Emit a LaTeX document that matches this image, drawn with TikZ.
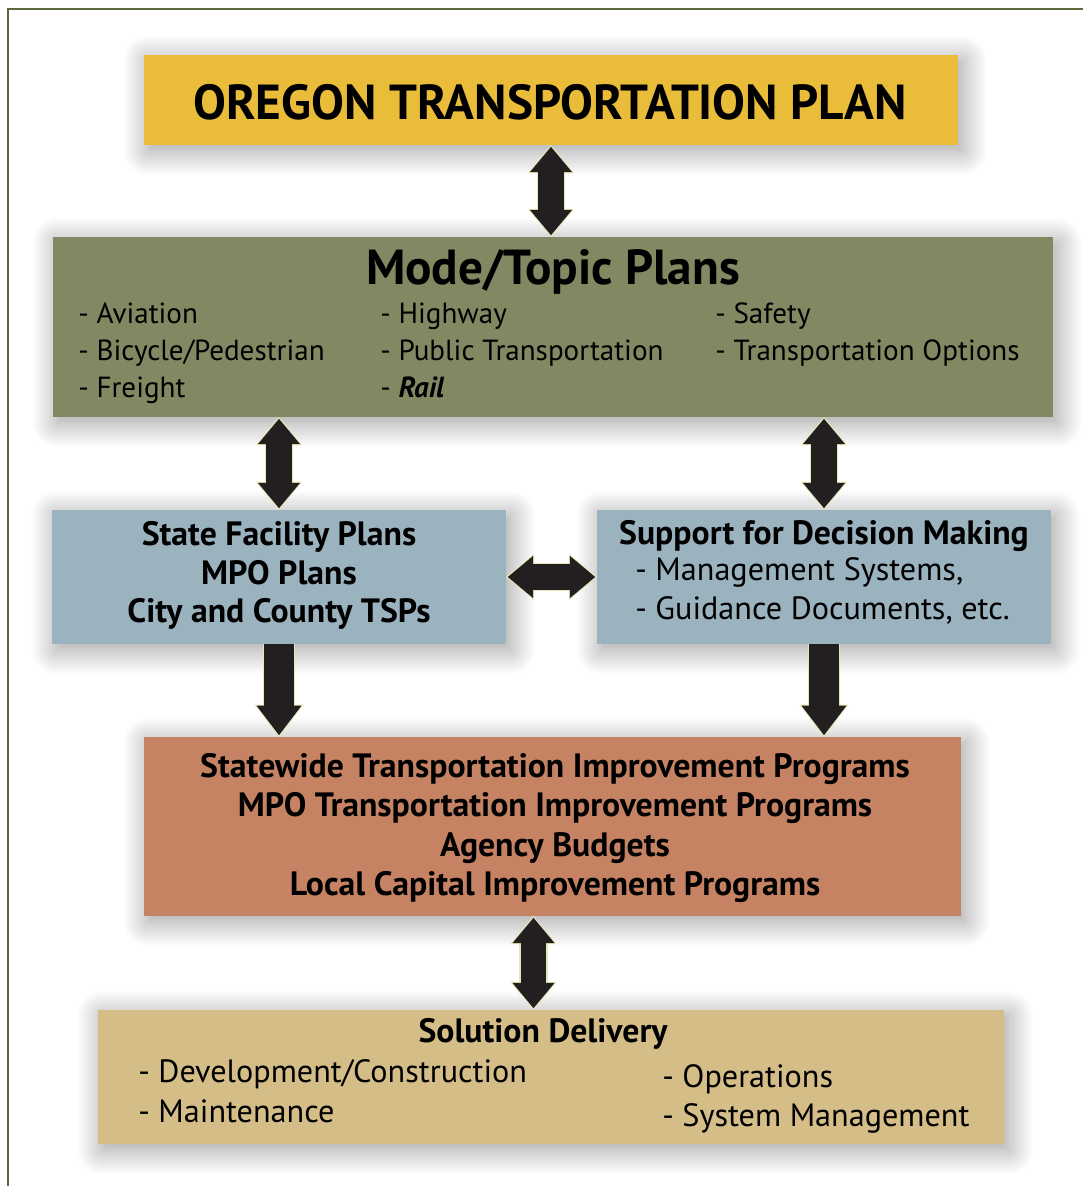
\documentclass[tikz,border=0pt]{standalone}
\usepackage{fontspec}
\setmainfont{PT Sans}
\usetikzlibrary{arrows.meta,shadows.blur}

\definecolor{otpyellow}{HTML}{E9BD39}
\definecolor{modegreen}{HTML}{818962}
\definecolor{planblue}{HTML}{9BB2BF}
\definecolor{stiporange}{HTML}{C58363}
\definecolor{delivtan}{HTML}{D4BD87}
\definecolor{framegreen}{HTML}{5B6B3B}
\definecolor{arrowblack}{HTML}{231F20}
\definecolor{arrowrim}{HTML}{E4E7B6}

\tikzset{
  panel/.style={inner sep=0pt, outer sep=0pt,
    blur shadow={shadow xshift=3pt, shadow yshift=-4pt, shadow blur radius=18pt,
      shadow blur steps=20, shadow opacity=40}},
  item/.style={anchor=base west, inner sep=0pt, font=\fontsize{20.7}{24}\selectfont},
  bigitem/.style={anchor=base west, inner sep=0pt, font=\fontsize{22.9}{26}\selectfont},
  boxhead/.style={anchor=base, inner sep=0pt, font=\bfseries\fontsize{24}{28}\selectfont},
  twoway/.style={draw=arrowrim, line width=20pt,
    {Triangle[length=20pt,width=33pt,line width=0pt]}-{Triangle[length=20pt,width=33pt,line width=0pt]},
    postaction={draw=arrowblack, line width=18pt, shorten <=1.3pt, shorten >=1.3pt,
      {Triangle[length=18pt,width=30pt,line width=0pt]}-{Triangle[length=18pt,width=30pt,line width=0pt]}}},
  oneway/.style={draw=arrowrim, line width=23pt,
    -{Triangle[length=23pt,width=35pt,line width=0pt]},
    postaction={draw=arrowblack, line width=21pt, shorten >=1.3pt,
      -{Triangle[length=21pt,width=32pt,line width=0pt]}}}
}

\begin{document}
\begin{tikzpicture}[x=0.25mm, y=-0.25mm]
\useasboundingbox (0,0) rectangle (1083,1186);
\draw[framegreen, line width=1.6pt] (8,1186) -- (8,9) -- (1083,9);

% top plan
\node[panel, fill=otpyellow, minimum width=203.5mm, minimum height=22.5mm] (otp) at (551,100) {};
\node[anchor=base, inner sep=0pt, font=\bfseries\fontsize{35}{40}\selectfont] (otptitle) at (550,120) {OREGON TRANSPORTATION PLAN};

% mode/topic plans
\node[panel, fill=modegreen, minimum width=250mm, minimum height=45mm] (modes) at (553,327) {};
\node[anchor=base, inner sep=0pt, font=\bfseries\fontsize{35}{40}\selectfont] (modestitle) at (553,285) {Mode/Topic Plans};
\foreach \txt [count=\i] in {Aviation, Bicycle/Pedestrian, Freight}
  \node[item] (ma\i) at (78,286+37*\i) {- \txt};
\foreach \txt [count=\i] in {Highway, Public Transportation, \textbf{\textit{Rail}}}
  \node[item] (mb\i) at (380,286+37*\i) {- \txt};
\foreach \txt [count=\i] in {Safety, Transportation Options}
  \node[item] (mc\i) at (715,286+37*\i) {- \txt};

% facility plans and decision support
\node[panel, fill=planblue, minimum width=113.5mm, minimum height=33.5mm] (fac) at (279,577) {};
\node[boxhead] (fac1) at (279,545) {State Facility Plans};
\node[boxhead] (fac2) at (279,584) {MPO Plans};
\node[boxhead] (fac3) at (279,622) {City and County TSPs};

\node[panel, fill=planblue, minimum width=113.5mm, minimum height=33.5mm] (dec) at (824,577) {};
\node[boxhead] (dec1) at (824,544) {Support for Decision Making};
\node[bigitem] (dec2) at (635,580) {- Management Systems,};
\node[bigitem] (dec3) at (635,619) {- Guidance Documents, etc.};

% programs
\node[panel, fill=stiporange, minimum width=204.25mm, minimum height=44.75mm] (stip) at (552.5,826.5) {};
\foreach \txt [count=\i] in {Statewide Transportation Improvement Programs,
    MPO Transportation Improvement Programs, Agency Budgets,
    Local Capital Improvement Programs}
  \node[boxhead] (stip\i) at (555,737.5+39.5*\i) {\txt};

% solution delivery
\node[panel, fill=delivtan, minimum width=226.5mm, minimum height=33.5mm] (deliv) at (551,1077) {};
\node[boxhead] (delivtitle) at (543,1042) {Solution Delivery};
\node[bigitem] (del1) at (138,1082) {- Development/Construction};
\node[bigitem] (del2) at (138,1122) {- Maintenance};
\node[bigitem] (del3) at (662,1087) {- Operations};
\node[bigitem] (del4) at (662,1126) {- System Management};

% connectors
\draw[twoway] (otp.south) -- (otp.south |- modes.north);
\draw[twoway] (fac.north |- modes.south) -- (fac.north);
\draw[twoway] (dec.north |- modes.south) -- (dec.north);
\draw[twoway] (fac.east) -- (dec.west);
\draw[oneway] (fac.south) -- (fac.south |- stip.north);
\draw[oneway] (dec.south) -- (dec.south |- stip.north);
\draw[twoway] ([xshift=-4.75mm]stip.south) -- ([xshift=-4.75mm]stip.south |- deliv.north);
\end{tikzpicture}
\end{document}
